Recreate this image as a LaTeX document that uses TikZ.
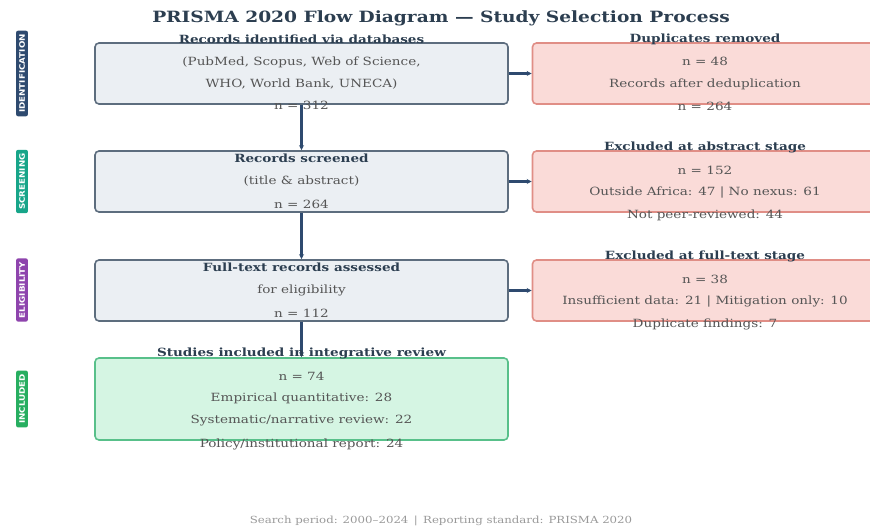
\documentclass[tikz,border=0pt]{standalone}
\usepackage{fontspec}
\setmainfont{DejaVu Serif}[FakeStretch=1.2]
\setsansfont{DejaVu Sans}[FakeStretch=1.15]
\usetikzlibrary{arrows.meta}
\definecolor{titlecol}{HTML}{2C3E50}
\definecolor{boxfill}{HTML}{EBEFF3}
\definecolor{boxdraw}{HTML}{5D6D7E}
\definecolor{redfill}{HTML}{FADBD8}
\definecolor{reddraw}{HTML}{E08E86}
\definecolor{greenfill}{HTML}{D5F5E3}
\definecolor{greendraw}{HTML}{58C08A}
\definecolor{arrowcol}{HTML}{2E4A6F}
\definecolor{bodycol}{HTML}{555555}
\definecolor{identcol}{HTML}{2E4A6F}
\definecolor{screencol}{HTML}{17A589}
\definecolor{eligcol}{HTML}{8E44AD}
\definecolor{inclcol}{HTML}{27AE60}
\tikzset{
  mainbox/.style={draw=boxdraw, fill=boxfill, line width=1.6pt, rounded corners=4pt, minimum width=413pt, inner sep=0pt},
  redbox/.style={draw=reddraw, fill=redfill, line width=1.6pt, rounded corners=4pt, minimum width=345pt, inner sep=0pt},
  greenbox/.style={draw=greendraw, fill=greenfill, line width=1.6pt, rounded corners=4pt, minimum width=413pt, inner sep=0pt},
  btitle/.style={font=\bfseries\fontsize{11.3}{12}\selectfont, text=titlecol, inner sep=0pt},
  btext/.style={font=\fontsize{11.3}{12}\selectfont, text=bodycol, inner sep=0pt},
  conn/.style={draw=arrowcol, line width=2.2pt, -{Stealth[length=5pt,width=5pt]}},
  sidelab/.style={rounded corners=2pt, text=white, font=\sffamily\bfseries\fontsize{7.6}{8}\selectfont, rotate=90, inner xsep=3.5pt, inner ysep=3pt},
}
\begin{document}
\begin{tikzpicture}[x=1pt,y=-1pt]
\useasboundingbox (0,0) rectangle (870,526);
\fill[white] (0,0) rectangle (870,526);

\node[font=\bfseries\fontsize{15.5}{16}\selectfont, text=titlecol] (title) at (441,18) {PRISMA 2020 Flow Diagram — Study Selection Process};

% main column boxes
\node[mainbox, minimum height=61pt] (b1) at (301.5,73.5) {};
\node[mainbox, minimum height=61pt] (b2) at (301.5,181.5) {};
\node[mainbox, minimum height=61pt] (b3) at (301.5,290.5) {};
\node[greenbox, minimum height=82pt] (b4) at (301.5,399) {};

% right boxes
\node[redbox, minimum height=61pt] (r1) at (705,73.5) {};
\node[redbox, minimum height=61pt] (r2) at (705,181.5) {};
\node[redbox, minimum height=61pt] (r3) at (705,290.5) {};

% connectors
\draw[conn] (b1.south) -- (b2.north);
\draw[conn] (b2.south) -- (b3.north);
\draw[conn] (b3.south) -- (b4.north);
\draw[conn] (b1.east) -- (r1.west);
\draw[conn] (b2.east) -- (r2.west);
\draw[conn] (b3.east) -- (r3.west);

% texts box 1
\node[btitle] (t1) at (301.5,39) {Records identified via databases};
\node[btext] (t1a) at (301.5,62) {(PubMed, Scopus, Web of Science,};
\node[btext] (t1b) at (301.5,84.5) {WHO, World Bank, UNECA)};
\node[btext] (t1c) at (301.5,105) {n = 312};
% box 2
\node[btitle] (t2) at (301.5,158) {Records screened};
\node[btext] (t2a) at (301.5,181) {(title \& abstract)};
\node[btext] (t2b) at (301.5,204) {n = 264};
% box 3
\node[btitle] (t3) at (301.5,267) {Full-text records assessed};
\node[btext] (t3a) at (301.5,290) {for eligibility};
\node[btext] (t3b) at (301.5,313) {n = 112};
% box 4
\node[btitle] (t4) at (301.5,353.5) {Studies included in integrative review};
\node[btext] (t4a) at (301.5,376) {n = 74};
\node[btext] (t4b) at (301.5,398.5) {Empirical quantitative: 28};
\node[btext] (t4c) at (301.5,421) {Systematic/narrative review: 22};
\node[btext] (t4d) at (301.5,444) {Policy/institutional report: 24};

% right texts
\node[btitle] (u1) at (705,39) {Duplicates removed};
\node[btext] (u1a) at (705,61.5) {n = 48};
\node[btext] (u1b) at (705,84.5) {Records after deduplication};
\node[btext] (u1c) at (705,106) {n = 264};
\node[btitle] (u2) at (705,147.5) {Excluded at abstract stage};
\node[btext] (u2a) at (705,170) {n = 152};
\node[btext] (u2b) at (705,192.5) {Outside Africa: 47 | No nexus: 61};
\node[btext] (u2c) at (705,215) {Not peer-reviewed: 44};
\node[btitle] (u3) at (705,256.5) {Excluded at full-text stage};
\node[btext] (u3a) at (705,279) {n = 38};
\node[btext] (u3b) at (705,301.5) {Insufficient data: 21 | Mitigation only: 10};
\node[btext] (u3c) at (705,324) {Duplicate findings: 7};

% side labels
\node[sidelab, fill=identcol] (s1) at (22,73.5) {IDENTIFICATION};
\node[sidelab, fill=screencol] (s2) at (22,181.5) {SCREENING};
\node[sidelab, fill=eligcol] (s3) at (22,290) {ELIGIBILITY};
\node[sidelab, fill=inclcol] (s4) at (22,399) {INCLUDED};

% footer
\node[font=\fontsize{9.8}{10}\selectfont, text=gray!80] (foot) at (441,521) {Search period: 2000–2024 \,|\, Reporting standard: PRISMA 2020};
\end{tikzpicture}
\end{document}
